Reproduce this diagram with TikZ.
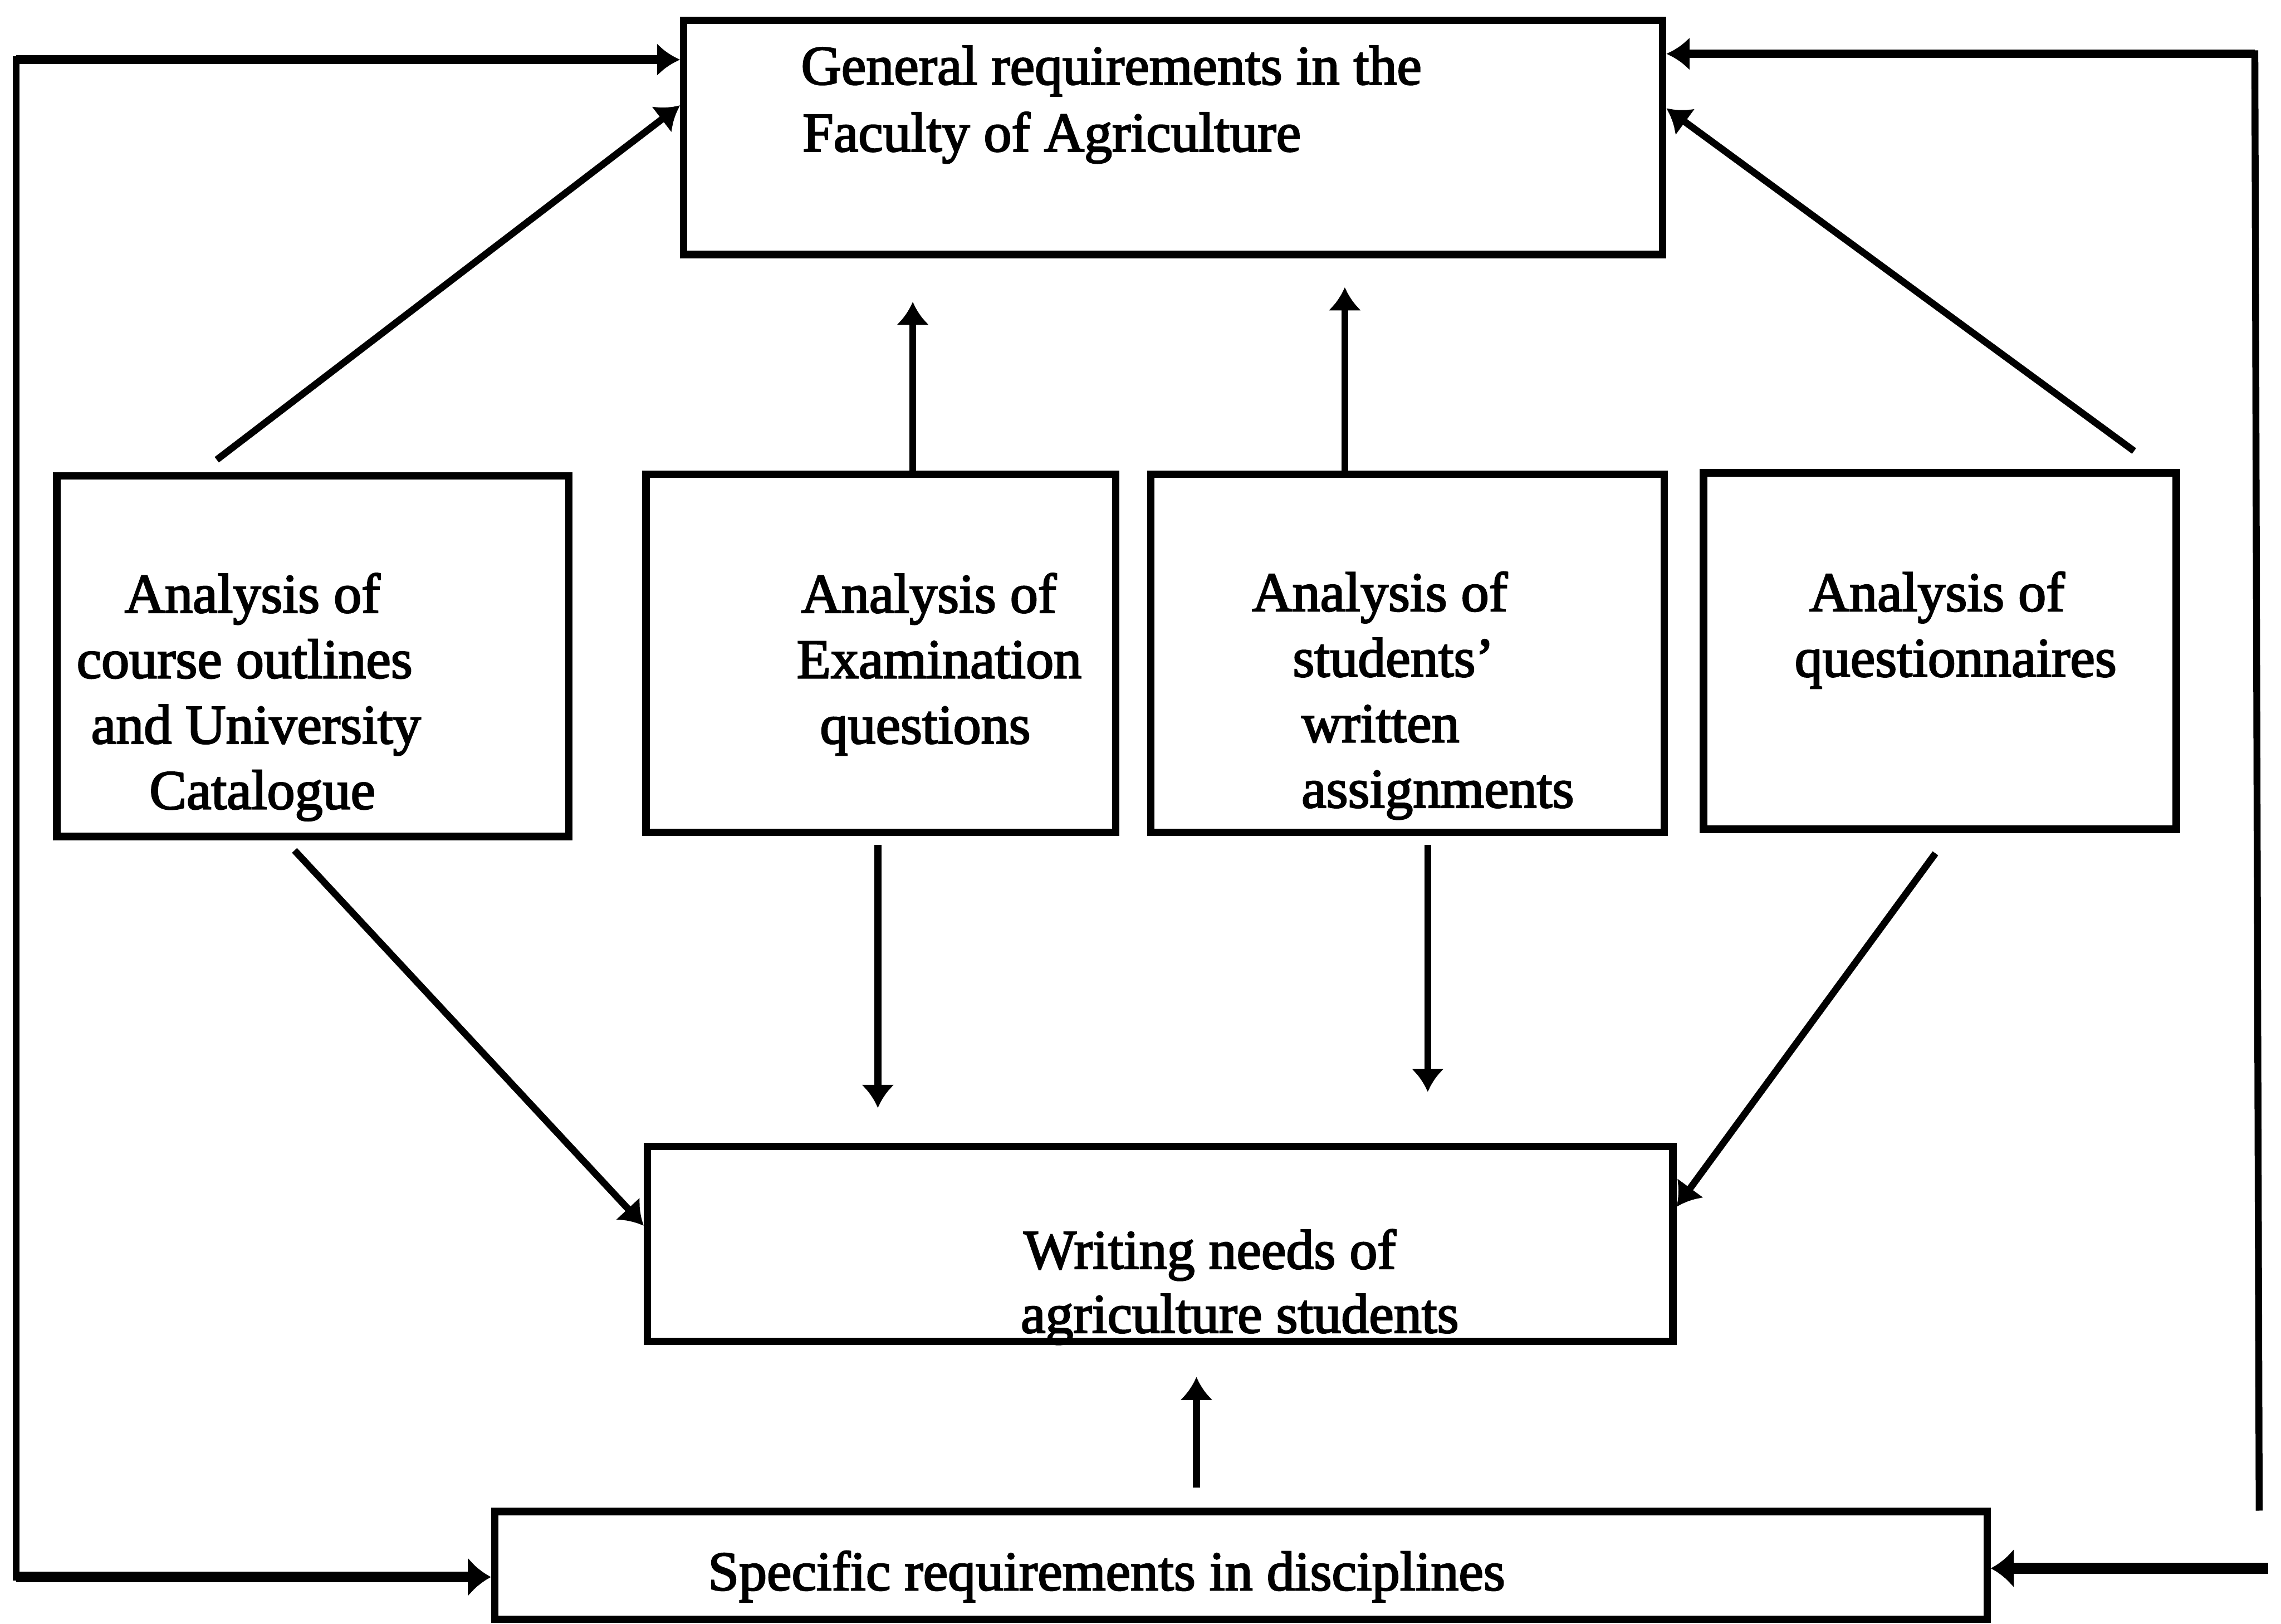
\documentclass[tikz,border=0pt]{standalone}
\usepackage{fontspec}
\setmainfont{Liberation Serif}[FakeBold=2.5]
\usetikzlibrary{arrows.meta,calc,fit}
\begin{document}
\begin{tikzpicture}[x=0.1mm,y=-0.1mm,
  box/.style={draw,line width=1.45pt,inner sep=0pt,rectangle},
  txt/.style={anchor=base west,inner sep=0pt,font=\fontsize{10.9}{13}\selectfont},
  arr/.style={line width=1.35pt,-{Latex[length=4.5pt,width=6.5pt]}},
  arrthick/.style={line width=2.1pt,-{Latex[length=4.5pt,width=7.8pt]}},
  plainline/.style={line width=1.35pt}]
\useasboundingbox (0,0) rectangle (1568,1116);

% boxes
\node[box,fit={(470,14) (1143,175)}] (top) {};
\node[box,fit={(39,327) (391,575)}] (b1) {};
\node[box,fit={(444,326) (767,572)}] (b2) {};
\node[box,fit={(791,326) (1144,572)}] (b3) {};
\node[box,fit={(1171,325) (1496,570)}] (b4) {};
\node[box,fit={(445,788) (1150,922)}] (wn) {};
\node[box,fit={(340,1039) (1366,1113)}] (sp) {};

% texts
\node[txt] (t1) at (550,58) {General requirements in the};
\node[txt] (t2) at (551,104) {Faculty of Agriculture};

\node[txt] (a1) at (85,421) {Analysis of};
\node[txt] (a2) at (52,466) {course outlines};
\node[txt] (a3) at (62,511) {and University};
\node[txt] (a4) at (102,556) {Catalogue};

\node[txt] (e1) at (550,421) {Analysis of};
\node[txt] (e2) at (547,466) {Examination};
\node[txt] (e3) at (563,511) {questions};

\node[txt] (s1) at (860,420) {Analysis of};
\node[txt] (s2) at (888,465) {students’};
\node[txt] (s3) at (894,510) {written};
\node[txt] (s4) at (894,555) {assignments};

\node[txt] (q1) at (1243,420) {Analysis of};
\node[txt] (q2) at (1233,465) {questionnaires};

\node[txt] (w1) at (703,872) {Writing needs of};
\node[txt] (w2) at (701,916) {agriculture students};

\node[txt] (sp1) at (486,1093) {Specific requirements in disciplines};

% free ends
\coordinate (L1) at (11,41);
\coordinate (L2) at (11,1084);
\coordinate (R1) at (1550,37);
\coordinate (R2) at (1553,1036);
\coordinate (R3) at (1559,1078);
\coordinate (d1s) at (149,316);
\coordinate (d2s) at (1467,310);

% outer loops
\draw[arr,line width=1.7pt] (L1) -- (top.west |- L1);
\draw[plainline,line cap=rect] (L1) -- (L2);
\draw[arrthick] (L2) -- (sp.west |- L2);
\draw[arr,line width=1.7pt] (R1) -- (top.east |- R1);
\draw[plainline,line cap=rect] (R1) -- (R2);
\draw[arrthick] (R3) -- (sp.east |- R3);

% diagonals to top
\draw[arr] (d1s) -- ($(top.north west)+(0,61)$);
\draw[arr] (d2s) -- ($(top.north east)+(0,63)$);

% vertical up arrows to top
\draw[arr] ($(b2.north west)+(186,0)$) -- ($(top.south west)+(160,30)$);
\draw[arr] ($(b3.north west)+(136,0)$) -- ($(top.south west)+(457,20)$);

% down arrows to writing needs
\draw[arr] ($(b2.south west)+(162,6)$) -- ($(wn.north west)+(161,-24)$);
\draw[arr] ($(b3.south west)+(193,6)$) -- ($(wn.north west)+(539,-35)$);

% diagonals to writing needs
\draw[arr] ($(b1.south west)+(166,7)$) -- ($(wn.north west)+(0,57)$);
\draw[arr] ($(b4.south west)+(162,14)$) -- ($(wn.north east)+(0,44)$);

% up arrow from specific
\draw[arr] ($(sp.north west)+(485,-14)$) -- ($(wn.south west)+(380,22)$);
\end{tikzpicture}
\end{document}
